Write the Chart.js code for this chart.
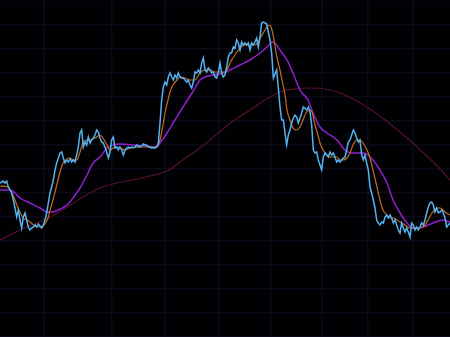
<!DOCTYPE html>
<html>
<head>
<meta charset="utf-8">
<script src="https://cdn.jsdelivr.net/npm/chart.js@4/dist/chart.umd.min.js"></script>
<style>
  html, body { margin: 0; padding: 0; background: #010103; }
  canvas { display: block; }
</style>
</head>
<body>
<canvas id="priceChart" width="450" height="337"></canvas>
<script>
// harga harian (satu titik per hari)
const closePrice = [
  15.4, 15.5, 15.6, 15.4, 15.6, 15.0, 14.7, 14.4, 13.7, 12.9, 12.0, 12.7, 11.7, 10.9, 12.0, 12.4, 11.7, 11.0, 10.7, 10.9,
  11.0, 11.2, 11.0, 11.3, 11.1, 10.9, 11.2, 11.7, 12.4, 13.4, 14.4, 15.0, 15.7, 16.7, 17.4, 17.9, 18.4, 18.5, 17.9, 17.4,
  17.7, 17.5, 17.8, 17.5, 17.7, 17.5, 18.2, 19.0, 20.4, 20.7, 19.0, 19.5, 19.2, 20.0, 19.4, 19.7, 19.9, 20.2, 20.7, 20.5,
  19.9, 19.5, 19.4, 19.0, 18.5, 17.9, 18.5, 19.7, 20.0, 18.9, 19.0, 18.7, 19.0, 18.7, 18.2, 18.7, 18.9, 19.0, 18.9, 19.0,
  18.9, 19.0, 19.2, 19.1, 19.0, 19.1, 19.3, 19.2, 19.2, 19.0, 19.0, 18.9, 18.9, 18.9, 19.0, 19.4, 21.4, 23.7, 25.0, 25.5,
  25.2, 26.0, 26.4, 26.0, 25.7, 26.2, 25.9, 26.4, 26.0, 25.9, 25.9, 25.7, 25.5, 25.7, 25.2, 24.9, 25.5, 26.5, 26.4, 26.7,
  26.4, 27.4, 27.9, 26.7, 26.5, 26.9, 26.7, 26.4, 26.5, 26.0, 25.9, 26.5, 27.4, 26.4, 26.0, 26.2, 27.0, 28.0, 28.4, 28.4,
  29.0, 28.9, 29.7, 29.4, 28.7, 29.5, 29.2, 29.4, 29.2, 29.4, 28.7, 29.4, 29.2, 29.5, 29.9, 29.0, 30.0, 31.4, 31.5, 31.4,
  31.3, 30.5, 29.7, 28.4, 25.9, 26.3, 26.7, 24.9, 23.0, 21.7, 21.7, 20.4, 19.2, 20.2, 20.7, 21.4, 21.9, 22.2, 22.0, 21.4,
  21.9, 22.4, 23.0, 22.9, 22.7, 23.0, 22.5, 21.2, 18.7, 18.4, 18.5, 17.7, 17.2, 16.7, 18.0, 18.4, 18.2, 18.0, 18.5, 18.2,
  18.4, 18.0, 17.5, 17.7, 17.5, 17.7, 17.9, 18.0, 18.7, 19.5, 19.7, 20.2, 20.7, 20.4, 19.9, 19.5, 19.7, 18.2, 17.7, 18.2,
  17.4, 16.7, 15.0, 14.4, 13.7, 12.9, 11.7, 11.4, 11.2, 11.5, 11.4, 12.0, 12.2, 11.9, 12.2, 11.9, 11.4, 11.7, 11.2, 10.7,
  10.4, 11.4, 10.9, 10.5, 10.9, 10.5, 10.0, 11.4, 11.2, 10.7, 11.0, 10.7, 11.0, 11.4, 11.2, 11.7, 12.4, 13.0, 13.4, 13.5,
  13.2, 12.5, 12.9, 12.4, 12.5, 12.7, 12.4, 11.9, 11.0, 11.2, 11.4
];

// moving average pendek (hari, nilai)
const maShort = [
  [0, 15.1], [4.8, 15.0], [7.2, 14.4], [9, 13.7], [10.8, 12.9], [12, 12.5], [13.8, 11.9], [16.2, 11.7], [18, 11.5],
  [21, 11.1], [24, 11.0], [25.8, 11.1], [27, 11.3], [28.8, 11.9], [30, 12.7], [31.8, 13.7], [33, 14.5], [34.8, 15.7],
  [36, 16.5], [37.8, 17.4], [40.2, 17.8], [42, 17.9], [43.8, 17.7], [46.2, 17.7], [48, 18.5], [49.8, 19.4], [52.2, 19.7],
  [54, 19.7], [57, 19.9], [60, 20.2], [61.8, 19.9], [64.2, 19.2], [66, 18.7], [67.8, 18.9], [70.2, 19.0], [72, 18.9],
  [75, 18.7], [78, 18.9], [84, 19.0], [90, 19.0], [93, 19.0], [94.8, 19.2], [96, 19.7], [97.8, 21.2], [99, 22.4],
  [100.8, 23.7], [102, 24.5], [103.8, 25.2], [106.2, 25.7], [108, 26.0], [111, 25.9], [114, 25.7], [117, 25.7],
  [120, 26.4], [123, 26.7], [126, 26.7], [129, 26.5], [132, 26.5], [135, 26.5], [136.8, 26.9], [138, 27.4],
  [139.8, 27.9], [142.2, 28.5], [144, 28.9], [147, 29.2], [150, 29.2], [153, 29.2], [154.8, 29.5], [157.2, 30.2],
  [159, 30.7], [160.8, 31.1], [162, 31.2], [163.2, 30.7], [164.4, 29.7], [165.6, 28.5], [166.8, 27.5], [168, 26.7],
  [169.2, 25.7], [171, 24.2], [172.2, 22.7], [174, 21.7], [175.8, 20.9], [177.6, 20.7], [180, 21.0], [181.8, 21.7],
  [183.6, 22.4], [186, 22.7], [187.2, 22.5], [189, 21.2], [190.8, 20.2], [192, 19.4], [193.8, 18.7], [196.2, 18.2],
  [198, 18.0], [202.2, 18.0], [204, 17.7], [205.8, 17.7], [208.2, 17.9], [210, 18.4], [211.8, 19.2], [214.2, 19.7],
  [216, 19.7], [217.8, 19.4], [220.2, 18.7], [222, 17.9], [223.8, 16.7], [226.2, 15.0], [228, 13.7], [229.8, 12.7],
  [232.2, 12.2], [234, 11.9], [235.8, 11.9], [238.2, 11.7], [240, 11.5], [243, 11.2], [246, 10.9], [249, 10.9],
  [252, 10.9], [255, 11.2], [256.8, 11.7], [259.2, 12.4], [262.2, 12.9], [264, 12.9], [267, 12.5], [270, 12.2]
];

// moving average menengah
const maMid = [
  [0, 14.7], [6, 14.7], [9, 14.4], [12, 13.9], [18, 13.4], [24, 12.9], [28.2, 12.5], [31.2, 12.5], [34.8, 12.7],
  [40.2, 13.2], [43.8, 13.9], [48, 14.9], [52.2, 16.2], [55.8, 17.4], [60, 18.0], [64.2, 18.9], [67.8, 19.2],
  [72, 19.3], [79.8, 19.2], [88.2, 19.1], [94.2, 19.0], [96, 19.4], [100.2, 20.4], [105, 21.7], [109.8, 23.0],
  [115.2, 24.4], [120, 25.7], [123, 26.0], [127.8, 26.2], [133.8, 26.4], [138, 26.7], [144, 27.2], [150, 27.7],
  [156, 28.4], [160.2, 29.0], [163.2, 29.5], [165, 29.4], [168, 28.7], [172.2, 27.7], [175.8, 26.4], [180, 24.7],
  [184.8, 23.7], [187.8, 22.4], [192, 21.0], [196.2, 20.4], [202.2, 19.7], [207, 18.7], [211.2, 18.4], [217.2, 18.4],
  [220.8, 18.2], [223.8, 17.7], [228, 16.7], [232.2, 15.4], [235.8, 13.7], [240, 12.4], [244.2, 11.4], [247.8, 10.9],
  [253.8, 11.0], [259.8, 11.4], [265.8, 11.7], [270, 11.5]
];

// moving average panjang
const maLong = [
  [0, 9.7], [12, 10.7], [30, 12.0], [40.2, 13.0], [49.8, 14.0], [60, 14.9], [70.2, 15.4], [79.8, 15.7], [90, 16.1],
  [100.2, 16.6], [109.8, 17.7], [120, 18.9], [130.2, 20.3], [139.8, 21.6], [150, 22.7], [159, 23.7], [168, 24.5],
  [177, 24.8], [186, 24.9], [195, 24.8], [204, 24.4], [213, 23.7], [222, 22.8], [231, 21.7], [240, 20.5], [249, 19.2],
  [258, 17.8], [264, 16.8], [270, 15.7]
];

// posisi garis grid vertikal (hari)
const gridDays = [26.4, 67.2, 99, 131.4, 162.6, 193.2, 220.8, 247.8];

const toPoints = (arr) => arr.map(([d, v]) => ({ x: d, y: v }));

new Chart(document.getElementById('priceChart'), {
  type: 'line',
  data: {
    datasets: [
      {
        data: closePrice.map((v, i) => ({ x: i, y: v })),
        borderColor: '#52b4f0',
        borderWidth: 1.5,
        pointRadius: 0,
        tension: 0,
      },
      {
        data: toPoints(maShort),
        borderColor: '#c46c1e',
        borderWidth: 1.2,
        pointRadius: 0,
        cubicInterpolationMode: 'monotone',
      },
      {
        data: toPoints(maMid),
        borderColor: '#9020d0',
        borderWidth: 1.5,
        pointRadius: 0,
        cubicInterpolationMode: 'monotone',
      },
      {
        data: toPoints(maLong),
        borderColor: '#55122f',
        borderWidth: 1.2,
        pointRadius: 0,
        cubicInterpolationMode: 'monotone',
      },
    ],
  },
  options: {
    responsive: false,
    animation: false,
    devicePixelRatio: 1,
    layout: { padding: 0 },
    scales: {
      x: {
        type: 'linear',
        min: 0,
        max: 270,
        afterBuildTicks: (axis) => {
          axis.ticks = gridDays.map((v) => ({ value: v }));
        },
        ticks: { display: false },
        border: { display: false },
        grid: { color: '#0b0b1c', lineWidth: 1.5, drawTicks: false },
      },
      y: {
        min: 0,
        max: 33.7,
        ticks: { display: false, stepSize: 2.4 },
        border: { display: false },
        grid: { color: '#0a0a19', lineWidth: 1.5, drawTicks: false },
      },
    },
    plugins: {
      legend: { display: false },
      tooltip: { enabled: false },
    },
  },
});
</script>
</body>
</html>
